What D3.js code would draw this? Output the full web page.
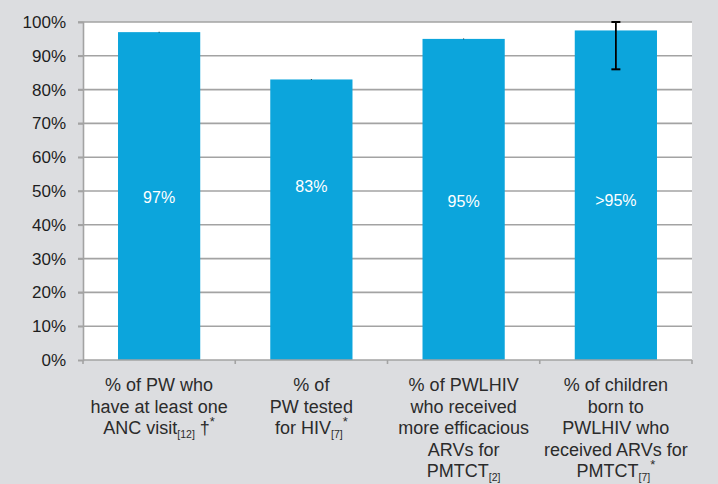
<!DOCTYPE html>
<html>
<head>
<meta charset="utf-8">
<script src="https://cdn.jsdelivr.net/npm/d3@7"></script>
<style>
  body { margin: 0; background: #dcdde0; }
  svg { display: block; font-family: "Liberation Sans", Arial, sans-serif; }
</style>
</head>
<body>
<svg></svg>
<script>
// chart data
var categories = ["anc", "tested", "arv", "children"];
var values = [97, 83, 95, 97.5];
var valueLabels = ["97%", "83%", "95%", ">95%"];
var labelAt = [48, 51.5, 46.8, 47.3];
var errLow = [96.9, 82.9, 94.9, 86];
var errHigh = [97.1, 83.1, 95.1, 100];
var yTicks = [0, 10, 20, 30, 40, 50, 60, 70, 80, 90, 100];

// category label lines: each line is a list of [text, kind] parts
var catLines = [
	[[["% of PW who", ""]], [["have at least one", ""]], [["ANC visit", ""], ["[12]", "sub"], [" †", ""], ["*", "sup"]]],
	[[["% of", ""]], [["PW tested", ""]], [["for HIV", ""], ["[7]", "sub"], ["*", "sup"]]],
	[[["% of PWLHIV", ""]], [["who received", ""]], [["more efficacious", ""]], [["ARVs for", ""]], [["PMTCT", ""], ["[2]", "sub"]]],
	[[["% of children", ""]], [["born to", ""]], [["PWLHIV who", ""]], [["received ARVs for", ""]], [["PMTCT", ""], ["[7]", "sub"], ["*", "sup"]]]
];

var width = 718, height = 484;
var mLeft = 83, mRight = 692, mTop = 22, mBottom = 360;

var svg = d3.select("svg")
	.attr("width", width)
	.attr("height", height);

svg.append("rect")
	.attr("width", width)
	.attr("height", height)
	.attr("fill", "#dcdde0");

var x = d3.scaleBand()
	.domain(categories)
	.range([mLeft, mRight])
	.paddingInner(0.46)
	.paddingOuter(0.23);

var xb = d3.scaleBand()
	.domain(categories)
	.range([mLeft, mRight]);

var y = d3.scaleLinear()
	.domain([0, 100])
	.range([mBottom, mTop]);

// plot area
svg.append("rect")
	.attr("x", mLeft)
	.attr("y", mTop)
	.attr("width", mRight - mLeft)
	.attr("height", mBottom - mTop)
	.attr("fill", "#ffffff");

// gridlines
svg.append("g")
	.selectAll("line")
	.data(yTicks.filter(function(d) { return d > 0; }))
	.enter().append("line")
		.attr("x1", mLeft - 5)
		.attr("x2", mRight)
		.attr("y1", function(d) { return y(d); })
		.attr("y2", function(d) { return y(d); })
		.attr("stroke", "#a3a3a3")
		.attr("stroke-width", 1.6);

// y axis
var yAxis = svg.append("g")
	.attr("transform", "translate(" + mLeft + ",0)")
	.call(d3.axisLeft(y).tickValues(yTicks).tickSize(5).tickPadding(12)
		.tickFormat(function(d) { return d + "%"; }));
yAxis.select(".domain").attr("stroke", "#a3a3a3").attr("stroke-width", 1.6);
yAxis.selectAll(".tick line").attr("stroke", "#a3a3a3").attr("stroke-width", 1.6);
yAxis.selectAll(".tick text")
	.attr("fill", "#1e1e1e")
	.attr("font-size", "17px")
	.attr("font-family", "Liberation Sans, Arial, sans-serif");

// bars
svg.append("g")
	.selectAll("rect")
	.data(values)
	.enter().append("rect")
		.attr("x", function(d, i) { return x(categories[i]); })
		.attr("y", function(d) { return y(d); })
		.attr("width", x.bandwidth())
		.attr("height", function(d) { return y(0) - y(d); })
		.attr("fill", "#0ca5dc");

// x axis
svg.append("line")
	.attr("x1", mLeft)
	.attr("x2", mRight)
	.attr("y1", mBottom)
	.attr("y2", mBottom)
	.attr("stroke", "#a3a3a3")
	.attr("stroke-width", 1.6);

svg.append("g")
	.selectAll("line")
	.data(categories.concat(["end"]))
	.enter().append("line")
		.attr("x1", function(d, i) { return i < categories.length ? xb(d) : mRight; })
		.attr("x2", function(d, i) { return i < categories.length ? xb(d) : mRight; })
		.attr("y1", mBottom)
		.attr("y2", mBottom + 4)
		.attr("stroke", "#a3a3a3")
		.attr("stroke-width", 1.6);

// error bars
var errData = values.map(function(d, i) {
	return { cat: categories[i], lo: errLow[i], hi: errHigh[i] };
});
var cx = function(d) { return x(d.cat) + x.bandwidth() / 2; };

svg.append("g")
	.selectAll("line")
	.data(errData)
	.enter().append("line")
		.attr("x1", cx)
		.attr("x2", cx)
		.attr("y1", function(d) { return y(d.lo); })
		.attr("y2", function(d) { return y(d.hi); })
		.attr("stroke", "#000")
		.attr("stroke-width", function(d) { return d.hi - d.lo > 1 ? 1.8 : 1; });

var capData = [];
errData.forEach(function(d) {
	if (d.hi - d.lo > 1) {
		capData.push({ cat: d.cat, v: d.lo });
		capData.push({ cat: d.cat, v: d.hi });
	}
});
svg.append("g")
	.selectAll("line")
	.data(capData)
	.enter().append("line")
		.attr("x1", function(d) { return cx(d) - 4.5; })
		.attr("x2", function(d) { return cx(d) + 4.5; })
		.attr("y1", function(d) { return y(d.v); })
		.attr("y2", function(d) { return y(d.v); })
		.attr("stroke", "#000")
		.attr("stroke-width", 2);

// value labels inside bars
svg.append("g")
	.selectAll("text")
	.data(valueLabels)
	.enter().append("text")
		.attr("x", function(d, i) { return x(categories[i]) + x.bandwidth() / 2; })
		.attr("y", function(d, i) { return y(labelAt[i]); })
		.attr("dy", "0.35em")
		.attr("text-anchor", "middle")
		.attr("fill", "#ffffff")
		.attr("font-size", "16px")
		.text(function(d) { return d; });

// category labels
var cats = svg.append("g")
	.selectAll("text")
	.data(catLines)
	.enter().append("text")
		.attr("text-anchor", "middle")
		.attr("fill", "#2b2b2b")
		.attr("font-size", "18px");

cats.each(function(lines, i) {
	var t = d3.select(this);
	var mid = xb(categories[i]) + xb.bandwidth() / 2;
	lines.forEach(function(parts, li) {
		var lineText = t.append("tspan")
			.attr("x", mid)
			.attr("y", mBottom + 31 + li * 21.5);
		var shift = 0;
		parts.forEach(function(p) {
			var s = lineText.append("tspan").text(p[0]);
			var want = p[1] == "sub" ? 4 : (p[1] == "sup" ? -8 : 0);
			if (want != shift) s.attr("dy", want - shift);
			shift = want;
			if (p[1] == "sub") s.attr("font-size", "10.5px");
			else if (p[1] == "sup") s.attr("font-size", "13px");
		});
	});
});
</script>
</body>
</html>
